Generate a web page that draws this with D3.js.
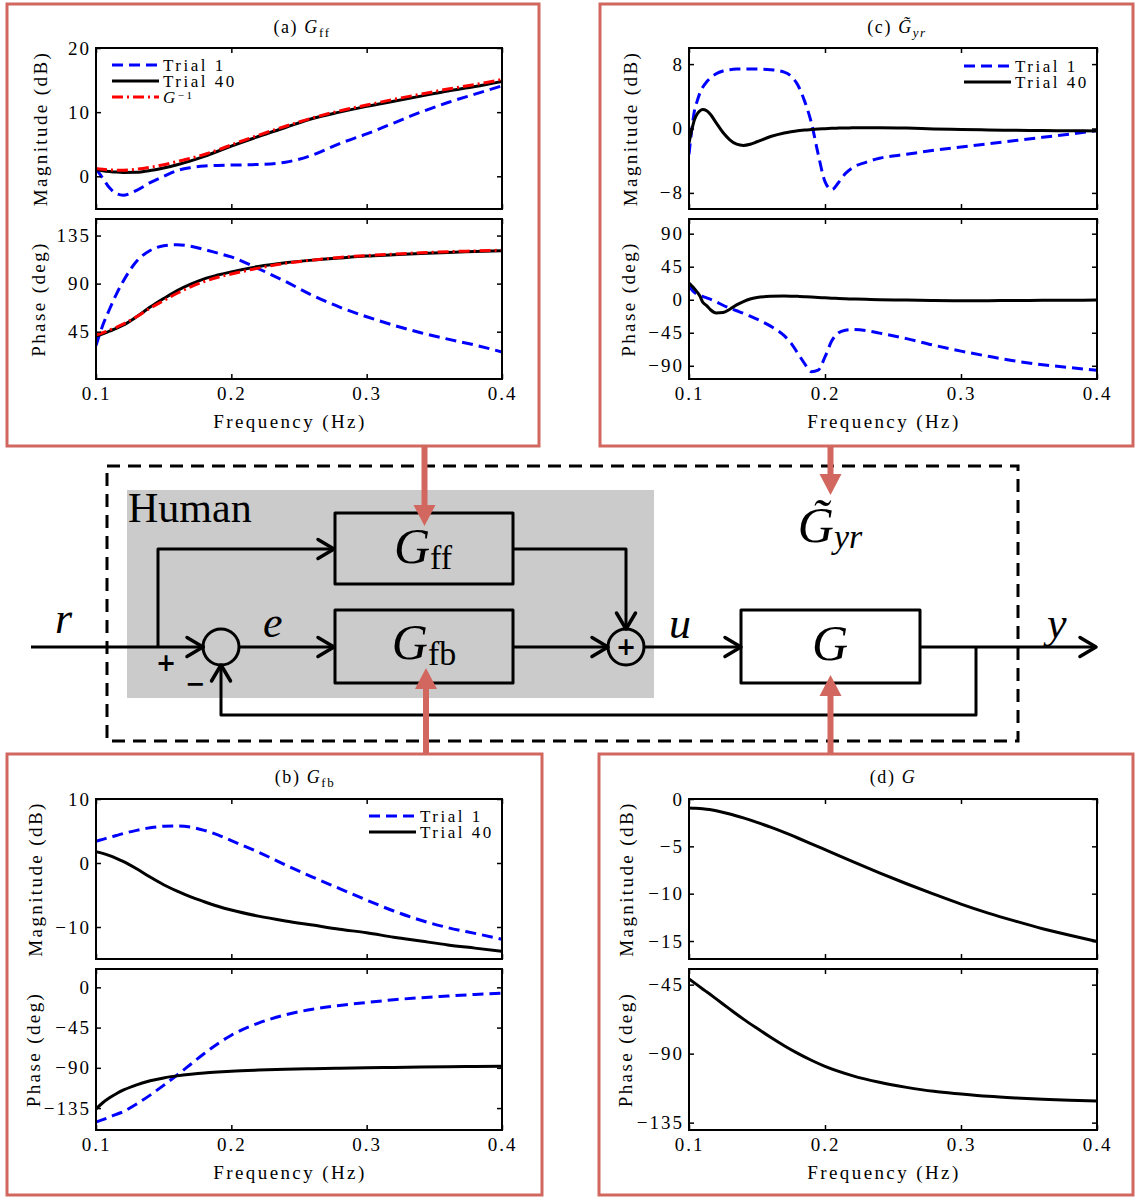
<!DOCTYPE html>
<html>
<head>
<meta charset="utf-8">
<script src="https://cdn.jsdelivr.net/npm/d3@7"></script>
<style>
  body { margin: 0; background: #fff; }
  svg text { font-family: "Liberation Serif", "Times New Roman", serif !important; fill: #000; }
  .tick text { font-size: 19px; letter-spacing: 2px; }
  .tick line { stroke-width: 1.5; }
  .lab { font-size: 19px; letter-spacing: 2.4px; }
  svg text.sign { font-family: "DejaVu Sans", sans-serif !important; font-weight: bold; }
</style>
</head>
<body>
<svg id="fig" width="1136" height="1198"></svg>
<script>
// frequency grids (Hz)
const freq = [0.1,0.105,0.11,0.115,0.12,0.13,0.14,0.15,0.16,0.17,0.18,0.19,0.2,0.22,0.24,0.26,0.28,0.3,0.32,0.34,0.36,0.38,0.4];
const freqC = [0.1,0.102,0.104,0.106,0.108,0.11,0.113,0.116,0.12,0.125,0.13,0.135,0.14,0.145,0.15,0.16,0.17,0.175,0.18,0.185,0.19,0.195,0.2,0.205,0.21,0.215,0.22,0.23,0.24,0.26,0.28,0.3,0.32,0.34,0.36,0.38,0.4];
const xTicks = [0.1, 0.2, 0.3, 0.4];

// (a) G_ff
const gffMagTrial1  = [1.2,-0.3,-1.8,-2.7,-2.95,-2.2,-1.0,0.0,0.9,1.35,1.6,1.7,1.75,1.85,2.2,3.3,5.1,6.6,8.3,10.0,11.5,12.8,14.1];
const gffMagTrial40 = [1.05,0.88,0.75,0.65,0.6,0.62,0.9,1.3,1.8,2.4,3.1,3.9,4.7,6.2,7.6,9.0,10.0,10.9,11.7,12.5,13.3,14.0,14.8];
const gffMagInv     = [1.2,1.1,1.0,0.95,0.95,1.1,1.4,1.8,2.3,2.8,3.4,4.1,4.9,6.4,7.8,9.1,10.2,11.1,12.0,12.8,13.6,14.3,15.1];
const gffPhTrial1   = [32,51,66,80,92,111,121,125.5,126.5,125,122,118.5,115,104,92,79,68,59,51,44,38,32.5,26];
const gffPhTrial40  = [41,43,45.5,48,51,59,68,76,83.5,89.5,94.5,98,101,106,109.5,112,114,115.8,117,118.2,119.2,120,120.8];
const gffPhInv      = [42,44,46.5,49,52,59,67,74,81,87,92,96,99,104.5,109,112,114.5,116.3,117.7,118.9,119.9,120.6,121.3];

// (b) G_fb
const gfbMagTrial1  = [3.4,3.7,4.0,4.3,4.6,5.1,5.5,5.75,5.8,5.6,5.1,4.4,3.5,1.7,-0.3,-2.2,-4.0,-5.8,-7.5,-8.95,-10.1,-11.0,-11.9];
const gfbMagTrial40 = [1.75,1.5,1.15,0.72,0.25,-0.9,-2.2,-3.4,-4.4,-5.3,-6.05,-6.75,-7.35,-8.3,-9.05,-9.7,-10.35,-10.9,-11.6,-12.2,-12.8,-13.3,-13.8];
const gfbPhTrial1   = [-150.5,-148,-145,-142,-139,-130.5,-120.5,-109.5,-98,-86,-74,-63,-53.5,-40,-30.8,-24.4,-20.2,-16.9,-13.9,-11.6,-9.7,-7.9,-6.4];
const gfbPhTrial40  = [-136,-129,-123.5,-119,-115,-109,-104.5,-101.3,-99,-97.2,-95.7,-94.6,-93.7,-92.5,-91.6,-91,-90.5,-90,-89.6,-89.2,-88.8,-88.5,-88.2];

// (c) closed loop G~_yr
const gyrMagTrial1  = [-3.2,-0.2,2.2,3.4,4.4,5.1,5.8,6.3,6.8,7.15,7.3,7.38,7.4,7.4,7.38,7.3,7.0,6.5,5.4,3.4,0.7,-3.2,-6.6,-7.6,-6.7,-5.6,-4.9,-4.2,-3.7,-3.2,-2.7,-2.3,-1.9,-1.5,-1.1,-0.7,-0.25];
const gyrMagTrial40 = [-1.8,-0.2,1.1,1.8,2.2,2.35,2.2,1.7,0.7,-0.5,-1.4,-1.95,-2.1,-1.95,-1.65,-1.0,-0.55,-0.4,-0.28,-0.2,-0.12,-0.06,-0.02,0.02,0.05,0.07,0.08,0.1,0.1,0.05,-0.05,-0.12,-0.18,-0.22,-0.25,-0.28,-0.3];
const gyrPhTrial1   = [19.6,14,10,7.5,5.9,4.5,2.5,0.5,-2.8,-7.5,-11.5,-15,-18.5,-22.5,-26.5,-36,-49,-59,-73,-87,-98,-96,-78,-56,-45,-41.5,-40.6,-42,-45.5,-53,-62,-70,-77,-83.5,-88.5,-92.5,-96];
const gyrPhTrial40  = [22.8,19,15,10.5,5,-3,-8,-14,-18,-17.5,-13,-7,-2.5,1,3,4.6,5,4.9,4.6,4.2,3.7,3.1,2.6,2.1,1.7,1.3,1.0,0.5,0.1,-0.5,-1.1,-1.4,-1.3,-1.0,-0.8,-0.6,-0.5];

// (d) plant G
const gMag = [-0.95,-0.98,-1.03,-1.11,-1.24,-1.58,-2.0,-2.47,-2.98,-3.53,-4.12,-4.73,-5.35,-6.6,-7.8,-8.95,-10.05,-11.1,-12.05,-12.9,-13.7,-14.4,-15.05];
const gPh  = [-41.3,-44.5,-47.8,-51,-54.3,-61,-67.5,-73.5,-79.3,-84.8,-89.8,-94.3,-98.3,-104.3,-108.7,-112,-114.6,-116.3,-117.8,-118.9,-119.8,-120.4,-120.9];

const RED = '#d1675f';
const styles = {
  t1:  { color: '#0000ff', dash: '11,6' },
  t40: { color: '#000', dash: null },
  inv: { color: '#ff0000', dash: '11,4,2,4' }
};

const svg = d3.select('#fig');
svg.append('rect').attr('width', 1136).attr('height', 1198).attr('fill', '#fff');
const defs = svg.append('defs');
const fmt = d => d < 0 ? '\u2212' + Math.abs(d) : String(d);

const panels = [
  { id: 'a', frame: [7, 4, 539, 446], xr: [96, 502], title: { x: 302, y: 33, pre: '(a) ', sub: 'ff', tilde: false, subItalic: false },
    mag: { yr: [48, 209], dom: [-5.1, 20], ticks: [0, 10, 20], labX: 40,
           series: [[freq, gffMagTrial1, 't1'], [freq, gffMagTrial40, 't40'], [freq, gffMagInv, 'inv']] },
    ph:  { yr: [219, 379], dom: [0.7, 150.5], ticks: [45, 90, 135], labX: 38,
           series: [[freq, gffPhTrial1, 't1'], [freq, gffPhTrial40, 't40'], [freq, gffPhInv, 'inv']] },
    legend: { x: 112, y: 65, items: ['t1', 't40', 'inv'] } },
  { id: 'c', frame: [600, 4, 1133, 446], xr: [689, 1097], title: { x: 897, y: 33, pre: '(c) ', sub: 'yr', tilde: true, subItalic: true },
    mag: { yr: [48, 209], dom: [-10, 10], ticks: [-8, 0, 8], labX: 630,
           series: [[freqC, gyrMagTrial1, 't1'], [freqC, gyrMagTrial40, 't40']] },
    ph:  { yr: [219, 379], dom: [-108, 110], ticks: [-90, -45, 0, 45, 90], labX: 628,
           series: [[freqC, gyrPhTrial1, 't1'], [freqC, gyrPhTrial40, 't40']] },
    legend: { x: 964, y: 66, items: ['t1', 't40'] } },
  { id: 'b', frame: [7, 754, 542, 1195], xr: [96, 502], title: { x: 305, y: 783, pre: '(b) ', sub: 'fb', tilde: false, subItalic: false },
    mag: { yr: [799, 959], dom: [-15, 10], ticks: [-10, 0, 10], labX: 35,
           series: [[freq, gfbMagTrial1, 't1'], [freq, gfbMagTrial40, 't40']] },
    ph:  { yr: [969, 1130], dom: [-159.5, 20.5], ticks: [-135, -90, -45, 0], labX: 33,
           series: [[freq, gfbPhTrial1, 't1'], [freq, gfbPhTrial40, 't40']] },
    legend: { x: 369, y: 816, items: ['t1', 't40'] } },
  { id: 'd', frame: [599, 754, 1133, 1195], xr: [689, 1097], title: { x: 893, y: 783, pre: '(d) ', sub: '', tilde: false, subItalic: false },
    mag: { yr: [799, 959], dom: [-16.9, 0], ticks: [-15, -10, -5, 0], labX: 626,
           series: [[freq, gMag, 't40']] },
    ph:  { yr: [969, 1130], dom: [-139.8, -34.8], ticks: [-135, -90, -45], labX: 625,
           series: [[freq, gPh, 't40']] },
    legend: null }
];

function bode(p) {
  const g = svg.append('g');
  g.append('rect')
    .attr('x', p.frame[0]).attr('y', p.frame[1])
    .attr('width', p.frame[2] - p.frame[0]).attr('height', p.frame[3] - p.frame[1])
    .attr('fill', 'none').attr('stroke', RED).attr('stroke-width', 3);

  const x = d3.scaleLinear().domain([0.1, 0.4]).range(p.xr);

  [p.mag, p.ph].forEach((ax, i) => {
    const y = d3.scaleLinear().domain(ax.dom).range([ax.yr[1], ax.yr[0]]);
    const cid = 'clip-' + p.id + i;
    defs.append('clipPath').attr('id', cid).append('rect')
      .attr('x', p.xr[0]).attr('y', ax.yr[0])
      .attr('width', p.xr[1] - p.xr[0]).attr('height', ax.yr[1] - ax.yr[0]);

    const line = d3.line().x(d => x(d[0])).y(d => y(d[1])).curve(d3.curveMonotoneX);
    ax.series.forEach(([fs, vs, key]) => {
      g.append('path')
        .datum(fs.map((f, k) => [f, vs[k]]))
        .attr('d', line)
        .attr('fill', 'none')
        .attr('stroke', styles[key].color)
        .attr('stroke-width', 3)
        .attr('stroke-dasharray', styles[key].dash)
        .attr('clip-path', `url(#${cid})`);
    });

    g.append('g').attr('transform', `translate(${p.xr[0]},0)`)
      .call(d3.axisLeft(y).tickValues(ax.ticks).tickSize(-5).tickPadding(5).tickFormat(fmt));
    g.append('g').attr('transform', `translate(${p.xr[1]},0)`)
      .call(d3.axisRight(y).tickValues(ax.ticks).tickSize(-5).tickFormat(''));
    g.append('g').attr('transform', `translate(0,${ax.yr[0]})`)
      .call(d3.axisTop(x).tickValues(xTicks).tickSize(-5).tickFormat(''));
    g.append('g').attr('transform', `translate(0,${ax.yr[1]})`)
      .call(d3.axisBottom(x).tickValues(xTicks).tickSize(-5).tickPadding(8)
        .tickFormat(i === 1 ? d3.format('.1f') : ''));
    g.selectAll('.domain').remove();

    g.append('rect')
      .attr('x', p.xr[0]).attr('y', ax.yr[0])
      .attr('width', p.xr[1] - p.xr[0]).attr('height', ax.yr[1] - ax.yr[0])
      .attr('fill', 'none').attr('stroke', '#000').attr('stroke-width', 2);

    g.append('text').attr('class', 'lab')
      .attr('transform', `translate(${ax.labX},${(ax.yr[0] + ax.yr[1]) / 2}) rotate(-90)`)
      .attr('text-anchor', 'middle').attr('dy', '0.35em')
      .text(i === 0 ? 'Magnitude (dB)' : 'Phase (deg)');
  });

  g.append('text').attr('class', 'lab')
    .attr('x', (p.xr[0] + p.xr[1]) / 2 - 9).attr('y', p.ph.yr[1] + 49)
    .attr('text-anchor', 'middle').text('Frequency (Hz)');

  const t = g.append('text').attr('x', p.title.x).attr('y', p.title.y)
    .attr('text-anchor', 'middle').style('font-size', '18px').style('letter-spacing', '1.6px');
  t.append('tspan').text(p.title.pre);
  t.append('tspan').attr('font-style', 'italic').text(p.title.tilde ? 'G\u0303' : 'G');
  if (p.title.sub) {
    t.append('tspan').attr('dy', 4).attr('font-size', 13)
      .attr('font-style', p.title.subItalic ? 'italic' : null).text(p.title.sub);
  }

  if (p.legend) {
    p.legend.items.forEach((key, k) => {
      const ly = p.legend.y + k * 16;
      g.append('line')
        .attr('x1', p.legend.x).attr('x2', p.legend.x + 47)
        .attr('y1', ly).attr('y2', ly)
        .attr('stroke', styles[key].color).attr('stroke-width', 3)
        .attr('stroke-dasharray', styles[key].dash);
      const lt = g.append('text').attr('x', p.legend.x + 51).attr('y', ly + 5.5)
        .style('font-size', '17px').style('letter-spacing', '2.5px');
      if (key === 't1') lt.text('Trial 1');
      else if (key === 't40') lt.text('Trial 40');
      else {
        lt.append('tspan').attr('font-style', 'italic').text('G');
        lt.append('tspan').attr('dy', -4).attr('font-size', 11).text('\u22121');
      }
    });
  }
}

panels.forEach(bode);

// ---- block diagram ----
const bd = svg.append('g');
bd.append('rect').attr('x', 107).attr('y', 466).attr('width', 911).attr('height', 275)
  .attr('fill', 'none').attr('stroke', '#000').attr('stroke-width', 3).attr('stroke-dasharray', '13,8');
bd.append('rect').attr('x', 127).attr('y', 490).attr('width', 527).attr('height', 208).attr('fill', '#cbcbcb');
bd.append('text').attr('x', 128).attr('y', 522).style('font-size', '42px').text('Human');

const wires = [
  'M31,647 H205', 'M158,647 V549 H333', 'M239,647 H333',
  'M513,549 H626 V627', 'M513,647 H606', 'M644,647 H739',
  'M920,647 H1094', 'M976,647 V715 H221 V667'
];
wires.forEach(d => bd.append('path').attr('d', d).attr('fill', 'none')
  .attr('stroke', '#000').attr('stroke-width', 3).attr('stroke-linejoin', 'round'));

[[221, 647], [626, 647]].forEach(([cx, cy]) => bd.append('circle')
  .attr('cx', cx).attr('cy', cy).attr('r', 18).attr('fill', 'none')
  .attr('stroke', '#000').attr('stroke-width', 3));

[[335, 513, 178, 71, 'none'], [335, 610, 178, 73, 'none'], [741, 610, 179, 73, '#fff']]
  .forEach(([bx, by, bw, bh, fill]) => bd.append('rect')
    .attr('x', bx).attr('y', by).attr('width', bw).attr('height', bh)
    .attr('fill', fill).attr('stroke', '#000').attr('stroke-width', 3).attr('stroke-linejoin', 'round'));

// open arrow tips
[[334, 549, 0], [203, 647, 0], [334, 647, 0], [626, 629, 90], [608, 647, 0],
 [741, 647, 0], [1096, 647, 0], [221, 665, -90]].forEach(([ax, ay, rot]) => {
  bd.append('path').attr('d', 'M-16,-9.5 L0,0 L-16,9.5')
    .attr('transform', `translate(${ax},${ay}) rotate(${rot})`)
    .attr('fill', 'none').attr('stroke', '#000').attr('stroke-width', 3.5)
    .attr('stroke-linecap', 'round').attr('stroke-linejoin', 'round');
});

bd.append('text').attr('class', 'sign').attr('x', 166).attr('y', 671).attr('text-anchor', 'middle').style('font-size', '24px').text('+');
bd.append('text').attr('class', 'sign').attr('x', 195).attr('y', 692).attr('text-anchor', 'middle').style('font-size', '24px').text('\u2212');
bd.append('text').attr('class', 'sign').attr('x', 626).attr('y', 655).attr('text-anchor', 'middle').style('font-size', '24px').text('+');

[['r', 55, 633], ['e', 263, 637], ['u', 669, 638], ['y', 1047, 638]].forEach(([s, lx, ly]) =>
  bd.append('text').attr('x', lx).attr('y', ly).attr('font-style', 'italic').style('font-size', '44px').text(s));

function blockLabel(cx, by, main, sub, subItalic) {
  const t = bd.append('text').attr('x', cx).attr('y', by).attr('text-anchor', 'middle').style('font-size', '50px');
  t.append('tspan').attr('font-style', 'italic').text(main);
  if (sub) t.append('tspan').attr('dy', 6).style('font-size', '34px')
    .attr('font-style', subItalic ? 'italic' : null).text(sub);
}
blockLabel(423, 563, 'G', 'ff', false);
blockLabel(424, 659, 'G', 'fb', false);
blockLabel(830, 660, 'G', '', false);
blockLabel(830, 542, 'G\u0303', 'yr', true);

// red pointer arrows from the panels
function redArrow(x0, yFrom, yTip) {
  const s = Math.sign(yTip - yFrom);
  const base = yTip - s * 21;
  bd.append('line').attr('x1', x0).attr('x2', x0).attr('y1', yFrom).attr('y2', base)
    .attr('stroke', RED).attr('stroke-width', 6);
  bd.append('path').attr('d', `M${x0 - 11},${base} L${x0 + 11},${base} L${x0},${yTip} Z`).attr('fill', RED);
}
redArrow(424.5, 446, 526);
redArrow(426, 754, 668);
redArrow(830.5, 446, 495);
redArrow(830.5, 754, 675);
</script>
</body>
</html>
